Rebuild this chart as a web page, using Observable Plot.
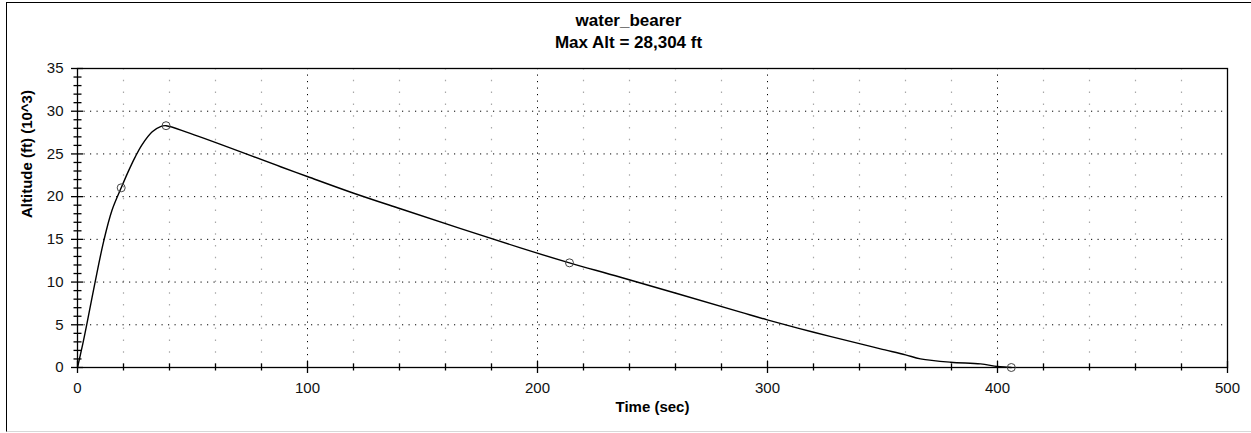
<!DOCTYPE html>
<html><head><meta charset="utf-8">
<script src="https://cdn.jsdelivr.net/npm/d3@7"></script>
<script src="https://cdn.jsdelivr.net/npm/@observablehq/plot@0.6"></script>
<style>
html,body{margin:0;padding:0;background:#fff;}
#wrap{position:relative;width:1251px;height:433px;overflow:hidden;font-family:"Liberation Sans",Arial,sans-serif;}
#border{position:absolute;left:6px;top:2px;width:1245px;height:430px;border-left:1.5px solid #000;border-top:1.5px solid #000;border-bottom:1px solid #d8d8d8;box-sizing:border-box;}
#title{position:absolute;left:6px;width:1245px;top:10px;text-align:center;font-weight:bold;font-size:17px;line-height:22px;color:#000;}
#chart{position:absolute;left:0;top:58px;}
</style></head>
<body>
<div id="wrap">
  <div id="border"></div>
  <div id="title"><div id="t1"></div><div id="t2"></div></div>
  <div id="chart"></div>
</div>
<script>
// ---- data ----
const titleText = "water_bearer";
const subtitleText = "Max Alt = 28,304 ft";
const xLabel = "Time (sec)";
const yLabel = "Altitude (ft) (10^3)";

const time = [0, 2.3, 4.0, 7.65, 11.4, 15, 19.0, 22, 25, 28.1, 32.5, 36.1, 38.5, 49, 88.3, 99.9, 120.1, 140.4, 192.6, 213.9, 236.1, 288.3, 299.9, 320.1, 340.4, 349.1, 360, 366.5, 379.6, 392.6, 399.9, 404.2, 406];
const altitude = [0, 2.77, 5, 10, 14.8, 18.4, 21.03, 22.9, 24.6, 26.1, 27.6, 28.2, 28.304, 27.4, 23.5, 22.36, 20.4, 18.58, 14.0, 12.25, 10.57, 6.48, 5.58, 4.13, 2.77, 2.18, 1.48, 1.01, 0.62, 0.43, 0.12, 0.04, 0];

const markerTime = [19.0, 38.5, 213.9, 406];
const markerAlt = [21.03, 28.304, 12.25, 0];

const xMajor = [0, 100, 200, 300, 400, 500];
const xGridLines = [100, 200, 300, 400];
const xMinor = [20, 40, 60, 80, 120, 140, 160, 180, 220, 240, 260, 280, 320, 340, 360, 380, 420, 440, 460, 480];
const yMajor = [0, 5, 10, 15, 20, 25, 30, 35];
const yGridLines = [5, 10, 15, 20, 25, 30];
const yMinor = [1,2,3,4,6,7,8,9,11,12,13,14,16,17,18,19,21,22,23,24,26,27,28,29,31,32,33,34];

// ---- build ----
document.getElementById("t1").textContent = titleText;
document.getElementById("t2").textContent = subtitleText;

const series = time.map((t, i) => ({t, a: altitude[i]}));
const markers = markerTime.map((t, i) => ({t, a: markerAlt[i]}));

const chart = Plot.plot({
  width: 1251,
  height: 375,
  marginLeft: 77,
  marginRight: 24,
  marginTop: 10,
  marginBottom: 66,
  style: {fontFamily: "'Liberation Sans', Arial, sans-serif", fontSize: "15px", color: "#000", background: "transparent", overflow: "visible"},
  x: {domain: [0, 500]},
  y: {domain: [0, 35]},
  marks: [
    Plot.ruleX(xMinor, {stroke: "#a8a8a8", strokeWidth: 1.2, strokeDasharray: "1.5,10.3"}),
    Plot.ruleX(xGridLines, {stroke: "#000", strokeDasharray: "1.2,5.3"}),
    Plot.ruleY(yGridLines, {stroke: "#000", strokeDasharray: "1.2,5.3"}),
    Plot.frame({stroke: "#000", strokeWidth: 1.3}),
    // x ticks (crossing the axis)
    Plot.axisX(xMinor, {tickSize: 7, dy: -3.5, tickFormat: () => "", label: null, strokeWidth: 1.3}),
    Plot.axisX(xMajor, {tickSize: 12, dy: -6, tickFormat: () => "", label: null, strokeWidth: 1.3}),
    Plot.axisX(xMajor, {tickSize: 0, tickPadding: 15, label: null, fontSize: 15, fill: "#111"}),
    // y ticks
    Plot.axisY(yMinor, {tickSize: 8, dx: 4.5, tickFormat: () => "", label: null, strokeWidth: 1.3}),
    Plot.axisY(yMajor, {tickSize: 12, dx: 6, tickFormat: () => "", label: null, strokeWidth: 1.3}),
    Plot.axisY(yMajor, {tickSize: 0, tickPadding: 14, label: null, fontSize: 15, fill: "#111"}),
    // axis titles
    Plot.text([xLabel], {text: d => d, frameAnchor: "bottom", dy: 44, fontWeight: "bold", fontSize: 15, fill: "#000"}),
    Plot.text([yLabel], {text: d => d, frameAnchor: "left", dx: -50, rotate: -90, fontWeight: "bold", fontSize: 15, fill: "#000"}),
    // data
    Plot.line(series, {x: "t", y: "a", stroke: "#000", strokeWidth: 1.4, curve: "catmull-rom"}),
    Plot.dot(markers, {x: "t", y: "a", r: 4, stroke: "#444", strokeWidth: 1, fill: "none"})
  ]
});
document.getElementById("chart").appendChild(chart);
</script>
</body></html>
